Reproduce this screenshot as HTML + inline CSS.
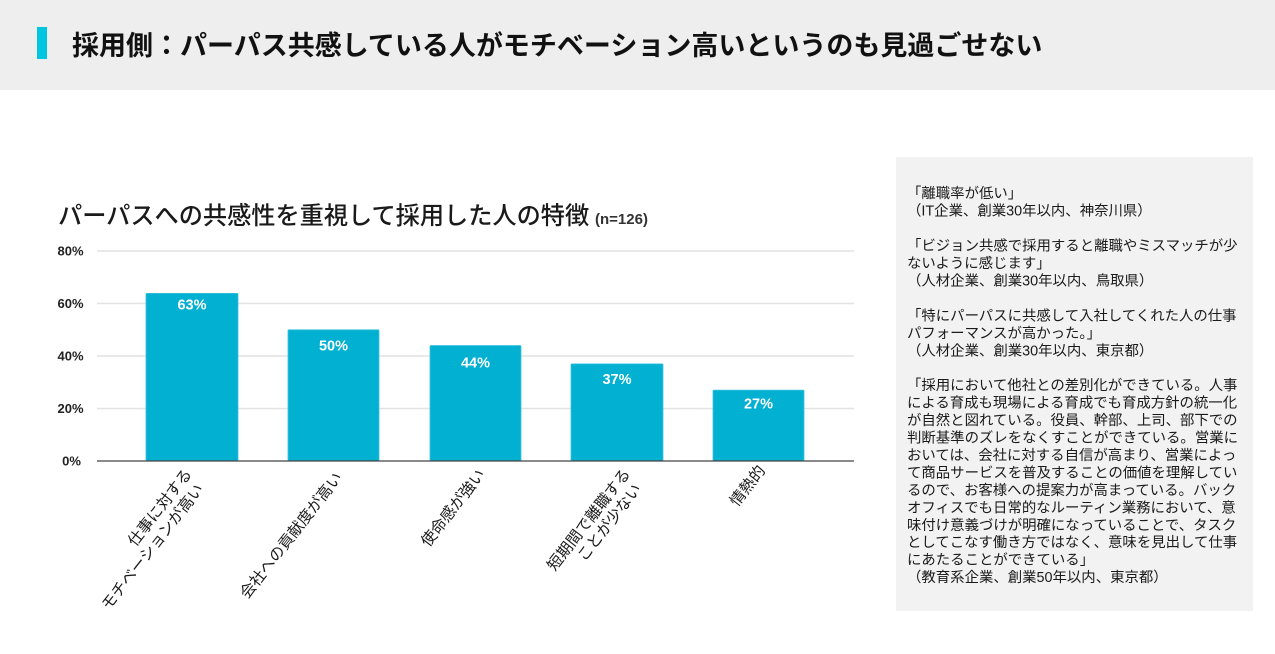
<!DOCTYPE html>
<html lang="ja">
<head>
<meta charset="utf-8">
<style>
  html,body{margin:0;padding:0;background:#fff;}
  body{width:1275px;height:654px;overflow:hidden;}
  svg{display:block;}
  .jp{font-family:"Liberation Sans","Noto Sans CJK JP",sans-serif;}
</style>
</head>
<body>
<svg width="1275" height="654" viewBox="0 0 1275 654" xmlns="http://www.w3.org/2000/svg">
  <!-- header band -->
  <rect x="0" y="0" width="1275" height="90" fill="#eeeeee"/>
  <rect x="37" y="27" width="10" height="32" fill="#00c5e0"/>
  <text x="72" y="55" class="jp" font-size="27" font-weight="700" fill="#111">採用側：パーパス共感している人がモチベーション高いというのも見過ごせない</text>

  <!-- chart title -->
  <text x="58" y="224" class="jp" font-size="24.2" font-weight="500" fill="#1a1a1a">パーパスへの共感性を重視して採用した人の特徴</text>
  <text x="595" y="224" font-family="Liberation Sans, sans-serif" font-size="15" font-weight="700" fill="#333">(n=126)</text>

  <!-- gridlines -->
  <g stroke="#e2e2e2" stroke-width="1.6">
    <line x1="97" y1="251" x2="854" y2="251"/>
    <line x1="97" y1="303.5" x2="854" y2="303.5"/>
    <line x1="97" y1="356" x2="854" y2="356"/>
    <line x1="97" y1="408.5" x2="854" y2="408.5"/>
  </g>

  <!-- y labels -->
  <g font-family="Liberation Sans, sans-serif" font-size="13" font-weight="700" fill="#222" text-anchor="middle">
    <text x="70.5" y="255.7">80%</text>
    <text x="70.5" y="308.2">60%</text>
    <text x="70.5" y="360.7">40%</text>
    <text x="70.5" y="413.2">20%</text>
    <text x="71.5" y="465.7">0%</text>
  </g>

  <!-- bars -->
  <g fill="#02b0d1" stroke="#3cc3dd" stroke-width="0.8">
    <rect x="146" y="293.4" width="92" height="167.6" rx="1"/>
    <rect x="288" y="329.8" width="91" height="131.2" rx="1"/>
    <rect x="430" y="345.5" width="91" height="115.5" rx="1"/>
    <rect x="571" y="363.9" width="92" height="97.1" rx="1"/>
    <rect x="713" y="390.1" width="91" height="70.9" rx="1"/>
  </g>

  <!-- axis -->
  <line x1="97" y1="461" x2="854" y2="461" stroke="#444" stroke-width="1.3"/>

  <!-- value labels -->
  <g font-family="Liberation Sans, sans-serif" font-size="14.5" font-weight="700" fill="#fff" text-anchor="middle">
    <text x="192" y="309.3">63%</text>
    <text x="333.5" y="350.3">50%</text>
    <text x="475.5" y="367.3">44%</text>
    <text x="617" y="384">37%</text>
    <text x="758.5" y="408.3">27%</text>
  </g>

  <!-- category labels -->
  <g class="jp" font-size="15.5" fill="#1a1a1a" text-anchor="end">
    <text transform="translate(192.6,474.1) rotate(-52)">仕事に対する</text>
    <text transform="translate(204.3,489.1) rotate(-52)">モチベーションが高い</text>
    <text transform="translate(343,477.5) rotate(-52)">会社への貢献度が高い</text>
    <text transform="translate(485.8,474.4) rotate(-52)">使命感が強い</text>
    <text transform="translate(631,474) rotate(-52)">短期間で離職する</text>
    <text transform="translate(642,489) rotate(-52)">ことが少ない</text>
    <text transform="translate(766,470.7) rotate(-52)">情熱的</text>
  </g>

  <!-- right panel -->
  <rect x="896" y="157" width="357" height="454" fill="#f2f2f2"/>
  <g class="jp" font-size="14.4" fill="#1a1a1a">
    <text x="907" y="198.2">「離職率が低い」</text>
    <text x="907" y="215.65">（IT企業、創業30年以内、神奈川県）</text>
    <text x="907" y="250.55">「ビジョン共感で採用すると離職やミスマッチが少</text>
    <text x="907" y="268.0">ないように感じます」</text>
    <text x="907" y="285.45">（人材企業、創業30年以内、鳥取県）</text>
    <text x="907" y="320.35">「特にパーパスに共感して入社してくれた人の仕事</text>
    <text x="907" y="337.8">パフォーマンスが高かった。」</text>
    <text x="907" y="355.25">（人材企業、創業30年以内、東京都）</text>
    <text x="907" y="390.15">「採用において他社との差別化ができている。人事</text>
    <text x="907" y="407.6">による育成も現場による育成でも育成方針の統一化</text>
    <text x="907" y="425.05">が自然と図れている。役員、幹部、上司、部下での</text>
    <text x="907" y="442.5">判断基準のズレをなくすことができている。営業に</text>
    <text x="907" y="459.95">おいては、会社に対する自信が高まり、営業によっ</text>
    <text x="907" y="477.4">て商品サービスを普及することの価値を理解してい</text>
    <text x="907" y="494.85">るので、お客様への提案力が高まっている。バック</text>
    <text x="907" y="512.3">オフィスでも日常的なルーティン業務において、意</text>
    <text x="907" y="529.75">味付け意義づけが明確になっていることで、タスク</text>
    <text x="907" y="547.2">としてこなす働き方ではなく、意味を見出して仕事</text>
    <text x="907" y="564.65">にあたることができている」</text>
    <text x="907" y="582.1">（教育系企業、創業50年以内、東京都）</text>
  </g>
</svg>
</body>
</html>
